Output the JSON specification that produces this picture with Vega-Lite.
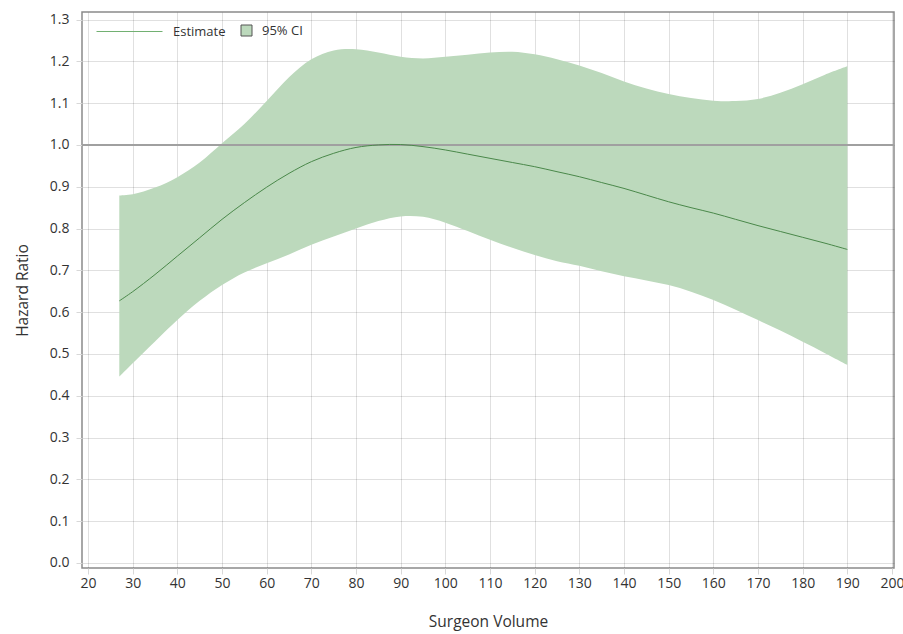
{
  "$schema": "https://vega.github.io/schema/vega-lite/v6.json",
  "width": 812,
  "height": 556,
  "autosize": {"type": "none"},
  "padding": {"left": 82, "top": 12, "right": 9, "bottom": 66},
  "background": "white",
  "config": {
    "font": "Open Sans",
    "view": {"stroke": "#8a8a8a", "strokeWidth": 1.5},
    "axis": {
      "domain": false,
      "grid": true,
      "gridColor": "#000000",
      "gridOpacity": 0.12,
      "tickColor": "#d8d8d8",
      "tickSize": 6,
      "labelFont": "Open Sans",
      "labelFontSize": 14,
      "labelColor": "#333333",
      "titleFont": "Open Sans",
      "titleFontSize": 15.5,
      "titleFontWeight": "normal",
      "titleColor": "#333333",
      "zindex": 1
    },
    "legend": {
      "labelFont": "Open Sans",
      "labelFontSize": 13,
      "labelColor": "#333333"
    }
  },
  "data": {
    "values": [
      {"x": 27, "est": 0.627, "lo": 0.446, "hi": 0.879},
      {"x": 30, "est": 0.649, "lo": 0.478, "hi": 0.882},
      {"x": 35, "est": 0.690, "lo": 0.530, "hi": 0.898},
      {"x": 40, "est": 0.734, "lo": 0.581, "hi": 0.923},
      {"x": 45, "est": 0.778, "lo": 0.627, "hi": 0.958},
      {"x": 50, "est": 0.822, "lo": 0.665, "hi": 1.004},
      {"x": 55, "est": 0.862, "lo": 0.695, "hi": 1.050},
      {"x": 60, "est": 0.899, "lo": 0.717, "hi": 1.105},
      {"x": 65, "est": 0.932, "lo": 0.738, "hi": 1.162},
      {"x": 70, "est": 0.960, "lo": 0.761, "hi": 1.205},
      {"x": 75, "est": 0.980, "lo": 0.781, "hi": 1.226},
      {"x": 80, "est": 0.994, "lo": 0.800, "hi": 1.229},
      {"x": 85, "est": 1.000, "lo": 0.818, "hi": 1.221},
      {"x": 90, "est": 1.001, "lo": 0.829, "hi": 1.211},
      {"x": 95, "est": 0.996, "lo": 0.828, "hi": 1.207},
      {"x": 100, "est": 0.988, "lo": 0.814, "hi": 1.211},
      {"x": 105, "est": 0.978, "lo": 0.794, "hi": 1.216},
      {"x": 110, "est": 0.968, "lo": 0.773, "hi": 1.221},
      {"x": 115, "est": 0.958, "lo": 0.754, "hi": 1.223},
      {"x": 120, "est": 0.948, "lo": 0.737, "hi": 1.217},
      {"x": 125, "est": 0.936, "lo": 0.722, "hi": 1.205},
      {"x": 130, "est": 0.924, "lo": 0.711, "hi": 1.190},
      {"x": 135, "est": 0.910, "lo": 0.698, "hi": 1.172},
      {"x": 140, "est": 0.896, "lo": 0.686, "hi": 1.152},
      {"x": 145, "est": 0.880, "lo": 0.676, "hi": 1.135},
      {"x": 150, "est": 0.864, "lo": 0.665, "hi": 1.122},
      {"x": 155, "est": 0.850, "lo": 0.649, "hi": 1.112},
      {"x": 160, "est": 0.837, "lo": 0.629, "hi": 1.106},
      {"x": 165, "est": 0.822, "lo": 0.606, "hi": 1.105},
      {"x": 170, "est": 0.807, "lo": 0.581, "hi": 1.110},
      {"x": 175, "est": 0.793, "lo": 0.556, "hi": 1.125},
      {"x": 180, "est": 0.779, "lo": 0.529, "hi": 1.145},
      {"x": 185, "est": 0.765, "lo": 0.502, "hi": 1.168},
      {"x": 190, "est": 0.750, "lo": 0.474, "hi": 1.188}
    ]
  },
  "layer": [
    {
      "mark": {"type": "area", "interpolate": "catmull-rom", "opacity": 1},
      "encoding": {
        "x": {
          "field": "x", "type": "quantitative",
          "scale": {"domain": [18.65, 200.45], "nice": false, "zero": false},
          "axis": {"values": [20,30,40,50,60,70,80,90,100,110,120,130,140,150,160,170,180,190,200], "title": "Surgeon Volume", "labelPadding": 2, "titlePadding": 24}
        },
        "y": {
          "field": "lo", "type": "quantitative",
          "scale": {"domain": [-0.012, 1.318], "nice": false, "zero": false},
          "axis": {"values": [0,0.1,0.2,0.3,0.4,0.5,0.6,0.7,0.8,0.9,1.0,1.1,1.2,1.3], "format": ".1f", "title": "Hazard Ratio", "tickSize": 6, "labelPadding": 7, "titlePadding": 19}
        },
        "y2": {"field": "hi"},
        "fill": {
          "datum": "95% CI", "type": "nominal",
          "scale": {"domain": ["95% CI"], "range": ["#bcd9bc"]},
          "legend": {
            "title": null, "orient": "none", "legendX": 158, "legendY": 12,
            "symbolType": "square", "symbolSize": 121, "symbolStrokeColor": "#555555",
            "symbolStrokeWidth": 1, "symbolOpacity": 1, "labelOffset": 9
          }
        }
      }
    },
    {
      "mark": {"type": "rule", "color": "#a0a0a0", "strokeWidth": 1.5},
      "encoding": {"y": {"datum": 1.0}}
    },
    {
      "mark": {"type": "line", "interpolate": "catmull-rom", "strokeWidth": 1, "color": "#4a884a"},
      "encoding": {
        "x": {"field": "x", "type": "quantitative"},
        "y": {"field": "est", "type": "quantitative"}
      }
    },
    {
      "mark": {"type": "line", "interpolate": "catmull-rom", "strokeWidth": 1, "opacity": 0},
      "encoding": {
        "x": {"field": "x", "type": "quantitative"},
        "y": {"field": "est", "type": "quantitative"},
        "stroke": {
          "datum": "Estimate", "type": "nominal",
          "scale": {"domain": ["Estimate"], "range": ["#72b072"]},
          "legend": {
            "title": null, "orient": "none", "legendX": 14, "legendY": -14,
            "symbolType": "stroke", "symbolSize": 4356, "symbolStrokeWidth": 1,
            "symbolOpacity": 1, "labelOffset": 10
          }
        }
      }
    }
  ]
}
